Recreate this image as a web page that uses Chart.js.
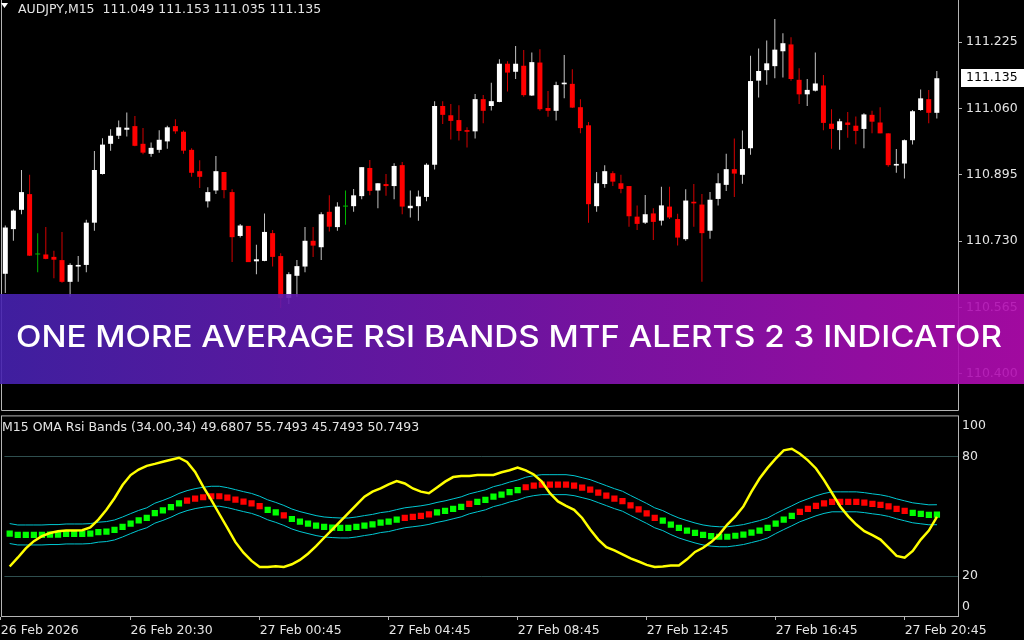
<!DOCTYPE html>
<html lang="en">
<head>
    <meta charset="UTF-8">
    <title>AUDJPY,M15 - OMA Rsi Bands</title>
    <script src="https://cdn.jsdelivr.net/npm/chart.js"></script>
    <style>
        body { margin: 0; background: #000; width: 1024px; height: 640px; position: relative; overflow: hidden; }
        canvas { position: absolute; left: 0; display: block; }
        #priceChart { top: 0; }
        #rsiChart { top: 411px; }
        .banner { position: absolute; left: 0; top: 294px; width: 1024px; height: 90px;
                  background: linear-gradient(90deg, #4622b0 0%, #7916b0 50%, #b30bb1 100%); opacity: 0.9; }
        .banner-text { position: absolute; left: 16px; top: 321px; color: #fff; white-space: nowrap;
                       font: 500 30.5px Inter, "Open Sans", sans-serif; line-height: 30.5px; transform-origin: 0 0; }
    </style>
</head>
<body>

    <canvas id="priceChart" width="1024" height="411"></canvas>
    <canvas id="rsiChart" width="1024" height="229"></canvas>
    <div class="banner"></div>
    <div class="banner-text" id="bannerText">ONE MORE AVERAGE RSI BANDS MTF ALERTS 2 3 INDICATOR</div>

<script>
    // AUDJPY M15, 116 bars (26 Feb 16:45 .. 27 Feb 21:45)
    const symbol = 'AUDJPY,M15';

    const open = [
        110.649, 110.760, 110.808, 110.847, 110.697, 110.697, 110.691, 110.683, 110.629, 110.667,
        110.671, 110.776, 110.897, 110.972, 110.992, 111.007, 111.016, 110.972, 110.947, 110.957,
        110.978, 111.016, 111.002, 110.957, 110.904, 110.829, 110.856, 110.902, 110.852, 110.743,
        110.768, 110.680, 110.681, 110.750, 110.693, 110.589, 110.644, 110.667, 110.731, 110.715,
        110.803, 110.765, 110.816, 110.817, 110.842, 110.912, 110.856, 110.872, 110.867, 110.919,
        110.812, 110.817, 110.840, 110.920, 111.066, 111.043, 111.031, 111.006, 111.003, 111.083,
        111.066, 111.076, 111.171, 111.151, 111.166, 111.092, 111.174, 111.061, 111.054, 111.120,
        111.121, 111.063, 111.018, 110.817, 110.872, 110.899, 110.874, 110.867, 110.791, 110.776,
        110.799, 110.781, 110.816, 110.785, 110.735, 110.828, 110.821, 110.756, 110.835, 110.870,
        110.909, 110.895, 110.961, 111.129, 111.155, 111.165, 111.202, 111.219, 111.131, 111.095,
        111.104, 111.117, 111.022, 111.006, 111.025, 111.017, 111.009, 111.044, 111.025, 110.998,
        110.918, 110.923, 110.981, 111.056, 111.083, 111.049
    ];
    const high = [
        110.769, 110.809, 110.907, 110.895, 110.750, 110.765, 110.706, 110.753, 110.675, 110.693,
        110.783, 110.954, 110.986, 111.008, 111.030, 111.050, 111.041, 111.011, 110.975, 111.006,
        111.017, 111.033, 111.005, 110.961, 110.931, 110.864, 110.942, 110.902, 110.859, 110.773,
        110.768, 110.721, 110.799, 110.758, 110.700, 110.653, 110.683, 110.765, 110.765, 110.802,
        110.844, 110.827, 110.856, 110.860, 110.914, 110.932, 110.874, 110.897, 110.924, 110.927,
        110.856, 110.856, 110.924, 111.078, 111.078, 111.071, 111.068, 111.013, 111.096, 111.093,
        111.124, 111.182, 111.177, 111.215, 111.205, 111.199, 111.207, 111.103, 111.126, 111.193,
        111.157, 111.083, 111.026, 110.902, 110.919, 110.904, 110.895, 110.867, 110.819, 110.845,
        110.812, 110.865, 110.865, 110.798, 110.859, 110.872, 110.847, 110.852, 110.899, 110.947,
        110.985, 111.005, 111.191, 111.209, 111.229, 111.282, 111.247, 111.237, 111.160, 111.133,
        111.199, 111.143, 111.058, 111.034, 111.051, 111.040, 111.048, 111.054, 111.063, 110.998,
        110.959, 110.983, 111.056, 111.107, 111.106, 111.153
    ];
    const low = [
        110.601, 110.731, 110.797, 110.693, 110.653, 110.685, 110.638, 110.627, 110.592, 110.629,
        110.653, 110.756, 110.896, 110.955, 110.984, 110.990, 110.966, 110.946, 110.940, 110.950,
        110.960, 110.997, 110.947, 110.890, 110.862, 110.814, 110.847, 110.837, 110.678, 110.739,
        110.678, 110.648, 110.680, 110.667, 110.564, 110.574, 110.592, 110.653, 110.691, 110.683,
        110.754, 110.756, 110.771, 110.803, 110.834, 110.844, 110.812, 110.843, 110.834, 110.797,
        110.789, 110.781, 110.829, 110.908, 111.021, 110.983, 110.980, 110.963, 110.985, 111.023,
        111.055, 111.075, 111.102, 111.133, 111.089, 111.091, 111.054, 111.039, 111.030, 111.085,
        111.061, 110.998, 110.776, 110.803, 110.863, 110.867, 110.849, 110.766, 110.758, 110.773,
        110.733, 110.769, 110.785, 110.719, 110.731, 110.766, 110.629, 110.736, 110.819, 110.855,
        110.840, 110.873, 110.945, 111.087, 111.119, 111.135, 111.137, 111.129, 111.071, 111.066,
        111.102, 111.006, 110.960, 110.957, 110.987, 110.971, 110.961, 110.998, 110.998, 110.915,
        110.900, 110.886, 110.970, 111.054, 111.023, 111.035
    ];
    const close = [
        110.764, 110.806, 110.852, 110.694, 110.697, 110.686, 110.684, 110.629, 110.671, 110.671,
        110.776, 110.907, 110.970, 110.992, 111.013, 111.012, 110.967, 110.950, 110.962, 110.982,
        111.013, 111.003, 110.955, 110.900, 110.890, 110.852, 110.904, 110.857, 110.740, 110.769,
        110.678, 110.685, 110.753, 110.691, 110.589, 110.648, 110.668, 110.731, 110.719, 110.797,
        110.766, 110.816, 110.816, 110.844, 110.914, 110.855, 110.874, 110.867, 110.917, 110.816,
        110.818, 110.841, 110.920, 111.066, 111.044, 111.029, 111.004, 111.002, 111.083, 111.054,
        111.078, 111.171, 111.149, 111.171, 111.093, 111.175, 111.058, 111.054, 111.118, 111.124,
        111.062, 111.011, 110.822, 110.874, 110.904, 110.878, 110.860, 110.792, 110.773, 110.797,
        110.778, 110.819, 110.789, 110.739, 110.831, 110.824, 110.750, 110.833, 110.874, 110.909,
        110.898, 110.959, 111.128, 111.153, 111.172, 111.206, 111.222, 111.133, 111.095, 111.106,
        111.122, 111.024, 111.009, 111.028, 111.019, 111.004, 111.045, 111.027, 110.998, 110.919,
        110.922, 110.981, 111.053, 111.085, 111.049, 111.135
    ];

    // OMA Rsi Bands (34.00,34)
    const rsi = [
        24.8, 29.2, 33.9, 37.5, 40.0, 41.6, 42.5, 42.8, 42.8, 43.0,
        44.4, 48.3, 53.2, 59.0, 65.6, 70.6, 73.4, 75.2, 76.2, 77.3,
        78.3, 79.3, 77.2, 72.2, 64.8, 58.2, 51.1, 44.1, 37.0, 31.7,
        27.6, 24.6, 24.6, 24.9, 24.6, 25.9, 28.1, 31.2, 35.0, 39.2,
        43.3, 47.4, 51.5, 55.7, 59.8, 62.3, 63.9, 65.9, 67.6, 66.4,
        63.9, 62.3, 61.5, 64.4, 67.3, 69.6, 70.1, 70.2, 70.6, 70.6,
        70.7, 72.0, 73.0, 74.4, 73.0, 70.9, 67.3, 61.5, 57.4, 55.2,
        53.2, 49.1, 43.3, 38.3, 34.5, 32.9, 30.9, 28.9, 27.3, 25.6,
        24.6, 24.8, 25.3, 25.3, 28.4, 32.1, 34.2, 37.0, 40.8, 45.8,
        49.9, 54.9, 62.3, 68.9, 74.2, 78.8, 83.0, 83.8, 81.3, 78.0,
        73.9, 68.1, 61.5, 54.9, 49.9, 45.8, 42.5, 40.5, 38.3, 34.2,
        30.1, 29.2, 32.6, 38.3, 42.8, 49.6807
    ];
    const omaMid = [
        41.3, 40.6, 40.6, 40.6, 40.6, 40.8, 40.8, 41.1, 41.1, 41.1,
        41.3, 42.0, 42.3, 43.1, 44.6, 46.3, 47.9, 49.2, 51.5, 52.9,
        54.5, 56.4, 57.8, 58.8, 59.5, 60.0, 60.0, 59.3, 58.3, 57.3,
        56.4, 55.0, 53.2, 51.9, 50.4, 48.6, 47.3, 46.3, 45.3, 44.6,
        44.3, 44.1, 44.1, 44.6, 45.3, 45.9, 46.8, 47.3, 48.3, 49.2,
        49.7, 50.2, 50.9, 51.9, 52.7, 53.7, 54.7, 56.2, 57.2, 58.2,
        59.8, 60.8, 62.1, 63.1, 64.5, 65.3, 65.8, 65.8, 65.8, 65.8,
        65.3, 64.3, 63.3, 61.8, 60.3, 58.8, 57.5, 55.4, 53.4, 51.4,
        49.2, 47.8, 45.8, 44.1, 42.8, 41.6, 40.6, 40.0, 39.7, 39.7,
        40.2, 40.8, 41.8, 42.8, 44.1, 46.3, 48.3, 50.2, 52.2, 53.7,
        55.2, 56.4, 57.2, 57.2, 57.2, 57.2, 56.8, 56.2, 55.7, 54.9,
        53.7, 52.7, 51.7, 51.2, 50.7, 50.7493
    ];
    const omaUpper = [
        46.3, 45.6, 45.6, 45.6, 45.6, 45.8, 45.8, 46.1, 46.1, 46.1,
        46.3, 47.0, 47.3, 48.1, 49.6, 51.3, 52.9, 54.2, 56.5, 57.9,
        59.5, 61.4, 62.8, 63.8, 64.5, 65.0, 65.0, 64.3, 63.3, 62.3,
        61.4, 60.0, 58.2, 56.9, 55.4, 53.6, 52.3, 51.3, 50.3, 49.6,
        49.3, 49.1, 49.1, 49.6, 50.3, 50.9, 51.8, 52.3, 53.3, 54.2,
        54.7, 55.2, 55.9, 56.9, 57.7, 58.7, 59.7, 61.2, 62.2, 63.2,
        64.8, 65.8, 67.1, 68.1, 69.5, 70.3, 70.8, 70.8, 70.8, 70.8,
        70.3, 69.3, 68.3, 66.8, 65.3, 63.8, 62.5, 60.4, 58.4, 56.4,
        54.2, 52.8, 50.8, 49.1, 47.8, 46.6, 45.6, 45.0, 44.7, 44.7,
        45.2, 45.8, 46.8, 47.8, 49.1, 51.3, 53.3, 55.2, 57.2, 58.7,
        60.2, 61.4, 62.2, 62.2, 62.2, 62.2, 61.8, 61.2, 60.7, 59.9,
        58.7, 57.7, 56.7, 56.2, 55.7, 55.7493
    ];
    const omaLower = [
        36.3, 35.6, 35.6, 35.6, 35.6, 35.8, 35.8, 36.1, 36.1, 36.1,
        36.3, 37.0, 37.3, 38.1, 39.6, 41.3, 42.9, 44.2, 46.5, 47.9,
        49.5, 51.4, 52.8, 53.8, 54.5, 55.0, 55.0, 54.3, 53.3, 52.3,
        51.4, 50.0, 48.2, 46.9, 45.4, 43.6, 42.3, 41.3, 40.3, 39.6,
        39.3, 39.1, 39.1, 39.6, 40.3, 40.9, 41.8, 42.3, 43.3, 44.2,
        44.7, 45.2, 45.9, 46.9, 47.7, 48.7, 49.7, 51.2, 52.2, 53.2,
        54.8, 55.8, 57.1, 58.1, 59.5, 60.3, 60.8, 60.8, 60.8, 60.8,
        60.3, 59.3, 58.3, 56.8, 55.3, 53.8, 52.5, 50.4, 48.4, 46.4,
        44.2, 42.8, 40.8, 39.1, 37.8, 36.6, 35.6, 35.0, 34.7, 34.7,
        35.2, 35.8, 36.8, 37.8, 39.1, 41.3, 43.3, 45.2, 47.2, 48.7,
        50.2, 51.4, 52.2, 52.2, 52.2, 52.2, 51.8, 51.2, 50.7, 49.9,
        48.7, 47.7, 46.7, 46.2, 45.7, 45.7493
    ];
    // 1 = green dot, -1 = red dot
    const omaTrend = [
         1,  1,  1,  1,  1,  1,  1,  1,  1,  1,
         1,  1,  1,  1,  1,  1,  1,  1,  1,  1,
         1,  1, -1, -1, -1, -1, -1, -1, -1, -1,
        -1, -1,  1,  1, -1,  1,  1,  1,  1,  1,
         1,  1,  1,  1,  1,  1,  1,  1,  1, -1,
        -1, -1, -1,  1,  1,  1,  1, -1,  1,  1,
         1,  1,  1,  1, -1, -1, -1, -1, -1, -1,
        -1, -1, -1, -1, -1, -1, -1, -1, -1, -1,
        -1,  1,  1,  1,  1,  1,  1,  1,  1,  1,
         1,  1,  1,  1,  1,  1,  1,  1, -1, -1,
        -1, -1, -1, -1, -1, -1, -1, -1, -1, -1,
        -1, -1,  1,  1,  1,  1
    ];

    const priceTicks = [110.400, 110.565, 110.730, 110.895, 111.060, 111.225];
    const rsiLevels = [20, 80];
    const rsiTickLabels = [0, 20, 80, 100];
    const timeLabels = ['26 Feb 2026', '26 Feb 20:30', '27 Feb 00:45', '27 Feb 04:45',
                        '27 Feb 08:45', '27 Feb 12:45', '27 Feb 16:45', '27 Feb 20:45'];
    const timeLabelBars = [-1.1, 15, 31, 47, 63, 79, 95, 111];   // first one sits at the left edge

    // visible window: bar 0 at x=5, 8.1 px per bar, plot 958 px wide
    const xMin = -0.654, xMax = 117.614;
    const priceMin = 110.308, priceMax = 111.3294;

    const fonte = { family: 'DejaVu Sans', size: 12.5 };
    const corTexto = '#e4e4e4';
    const corMoldura = '#b4b4b4';
    const last = close.length - 1;

    function corCorpo(i) {
        if (close[i] > open[i]) return '#ffffff';
        if (close[i] < open[i]) return '#ff0000';
        return '#00b400';
    }
    function corPavio(i) {
        if (close[i] > open[i]) return '#c4c4c4';
        if (close[i] < open[i]) return '#d40000';
        return '#00b400';
    }

    const molduraPreco = {
        id: 'molduraPreco',
        afterDraw(chart) {
            const { ctx, chartArea: a, scales: { y } } = chart;
            ctx.save();
            ctx.strokeStyle = corMoldura;
            ctx.lineWidth = 1;
            ctx.beginPath();
            ctx.moveTo(1.5, 0);
            ctx.lineTo(1.5, a.bottom - 0.5);
            ctx.lineTo(a.right + 0.5, a.bottom - 0.5);
            ctx.lineTo(a.right + 0.5, 0);
            ctx.stroke();

            ctx.fillStyle = '#ffffff';
            ctx.beginPath();
            ctx.moveTo(1, 3); ctx.lineTo(8, 3); ctx.lineTo(4.5, 8); ctx.closePath();
            ctx.fill();

            ctx.font = '12.5px "DejaVu Sans"';
            ctx.textBaseline = 'middle';
            ctx.fillStyle = corTexto;
            const ohlc = [open[last], high[last], low[last], close[last]].map(v => v.toFixed(3)).join(' ');
            ctx.fillText(symbol + '  ' + ohlc, 18, 10);

            const py = Math.round(y.getPixelForValue(close[last]));
            ctx.fillStyle = '#ffffff';
            ctx.fillRect(a.right + 3, py - 9, 1024 - a.right - 3, 18);
            ctx.fillStyle = '#000000';
            ctx.fillText(close[last].toFixed(3), a.right + 8, py);
            ctx.restore();
        }
    };

    const molduraRsi = {
        id: 'molduraRsi',
        afterDraw(chart) {
            const { ctx, chartArea: a } = chart;
            ctx.save();
            ctx.strokeStyle = corMoldura;
            ctx.lineWidth = 1;
            ctx.strokeRect(1.5, a.top + 0.5, a.right - 1, a.bottom - a.top - 1);
            ctx.font = '12.5px "DejaVu Sans"';
            ctx.textBaseline = 'middle';
            ctx.fillStyle = corTexto;
            const vals = [rsi[last], omaUpper[last], omaLower[last], omaMid[last]].map(v => v.toFixed(4)).join(' ');
            ctx.fillText('M15 OMA Rsi Bands (34.00,34) ' + vals, 2, a.top + 12);
            ctx.restore();
        }
    };

    new Chart(document.getElementById('priceChart'), {
        type: 'bar',
        data: {
            datasets: [{
                label: 'corpo',
                data: open.map((o, i) => ({ x: i, y: [o, close[i]] })),
                backgroundColor: ctx => corCorpo(ctx.dataIndex),
                barThickness: 5,
                minBarLength: 1,
                grouped: false,
                borderWidth: 0,
                inflateAmount: 0
            }, {
                label: 'pavio',
                data: high.map((h, i) => ({ x: i, y: [low[i], h] })),
                backgroundColor: ctx => corPavio(ctx.dataIndex),
                barThickness: 1,
                grouped: false,
                borderWidth: 0,
                inflateAmount: 0
            }]
        },
        options: {
            responsive: false,
            animation: false,
            events: [],
            layout: { padding: 0 },
            plugins: { legend: { display: false }, tooltip: { enabled: false } },
            scales: {
                x: { type: 'linear', min: xMin, max: xMax, offset: false, display: false },
                y: {
                    position: 'right',
                    min: priceMin,
                    max: priceMax,
                    afterBuildTicks: s => { s.ticks = priceTicks.map(v => ({ value: v })); },
                    afterFit: s => { s.width = 66; s.paddingTop = 0; s.paddingBottom = 0; },
                    ticks: { callback: v => v.toFixed(3), color: corTexto, font: fonte, padding: 4 },
                    grid: { drawOnChartArea: false, tickLength: 4, color: corMoldura },
                    border: { display: false }
                }
            }
        },
        plugins: [molduraPreco]
    });

    const pontos = arr => arr.map((v, i) => ({ x: i, y: v }));

    new Chart(document.getElementById('rsiChart'), {
        type: 'line',
        data: {
            datasets: [{
                label: 'RSI',
                data: pontos(rsi),
                borderColor: '#ffff00',
                borderWidth: 2.5,
                pointRadius: 0,
                tension: 0,
                order: 0
            }, {
                label: 'OMA',
                data: pontos(omaMid),
                showLine: false,
                pointStyle: 'rect',
                pointRadius: 4.4,
                pointBorderWidth: 0,
                pointBackgroundColor: ctx => omaTrend[ctx.dataIndex] > 0 ? '#00ff00' : '#ff0000',
                order: 1
            }, {
                label: 'Upper',
                data: pontos(omaUpper),
                borderColor: '#00c8d2',
                borderWidth: 1,
                pointRadius: 0,
                order: 2
            }, {
                label: 'Lower',
                data: pontos(omaLower),
                borderColor: '#00c8d2',
                borderWidth: 1,
                pointRadius: 0,
                order: 2
            }]
        },
        options: {
            responsive: false,
            animation: false,
            events: [],
            layout: { padding: { top: 2, left: 0, right: 0, bottom: 0 } },
            plugins: { legend: { display: false }, tooltip: { enabled: false } },
            scales: {
                x: {
                    type: 'linear', min: xMin, max: xMax, offset: false,
                    afterBuildTicks: s => { s.ticks = timeLabelBars.map(v => ({ value: v })); },
                    afterFit: s => { s.height = 23; s.paddingLeft = 0; s.paddingRight = 0; },
                    ticks: {
                        autoSkip: false, maxRotation: 0, align: 'start', padding: 3,
                        color: corTexto, font: fonte,
                        callback: (v, idx) => timeLabels[idx]
                    },
                    grid: { drawOnChartArea: false, tickLength: 3, color: corMoldura },
                    border: { display: false }
                },
                y: {
                    position: 'right',
                    min: -0.5,
                    max: 100.5,
                    // 0 and 100 labels are drawn inside the panel, like the terminal does
                    afterBuildTicks: s => {
                        s.ticks = rsiTickLabels.map(v => ({ value: v === 0 ? 4.5 : v === 100 ? 95.5 : v }));
                    },
                    afterFit: s => { s.width = 66; s.paddingTop = 0; s.paddingBottom = 0; },
                    ticks: { callback: (v, idx) => String(rsiTickLabels[idx]), color: corTexto, font: fonte, padding: 4 },
                    grid: {
                        drawTicks: false,
                        color: ctx => (ctx.tick && rsiLevels.includes(ctx.tick.value)) ? '#2f4f4f' : 'rgba(0,0,0,0)'
                    },
                    border: { display: false }
                }
            }
        },
        plugins: [molduraRsi]
    });

    function ajustarBanner() {
        const el = document.getElementById('bannerText');
        el.style.transform = 'none';
        const w = el.getBoundingClientRect().width;
        el.style.transform = 'scaleX(' + (986 / w) + ')';
    }
    ajustarBanner();
    if (document.fonts) document.fonts.ready.then(ajustarBanner);
</script>
</body>
</html>
